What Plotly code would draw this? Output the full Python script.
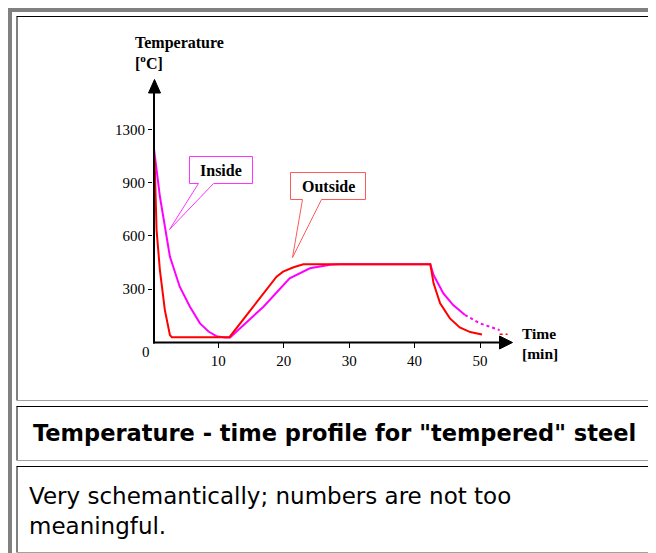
import plotly.graph_objects as go

# ---------------- data ----------------
time_outside = [0.25, 0.56, 1.07, 1.83, 2.6, 2.9, 11.7, 15.3, 18.9, 19.9, 21.5, 23.0,
                42.4, 42.9, 43.9, 45.4, 46.9, 48.5, 50.3]
temp_outside = [1040, 634, 407, 181, 40, 28, 28, 199, 370, 398, 423, 440,
                440, 332, 219, 134, 83, 57, 43]
time_outside_tail = [53.0, 54.2]
temp_outside_tail = [45, 45]

time_inside = [0.15, 1.07, 2.6, 4.1, 5.66, 7.2, 8.5, 9.7, 11.0, 11.8, 16.9, 20.9,
               24.0, 27.1, 28.5, 42.4, 42.9, 44.4, 45.9, 47.7]
temp_inside = [1096, 822, 483, 313, 200, 106, 60, 34, 26, 26, 200, 360,
               417, 437, 440, 440, 379, 275, 209, 153]
time_inside_tail = [47.7, 50.0, 53.0]
temp_inside_tail = [153, 106, 68]

x_tick_vals = [10, 20, 30, 40, 50]
y_tick_vals = [300, 600, 900, 1200]
y_tick_text = ["300", "600", "900", "1300"]

# ---------------- layout helpers ----------------
OFF = 8  # page body margin
W, H = 656 - OFF, 553 - OFF
def X(px):
    return (px - OFF) / W
def Y(py):
    return 1 - (py - OFF) / H

SERIF = "Liberation Serif, Times New Roman, serif"
SANS = "DejaVu Sans, Arial, sans-serif"

fig = go.Figure()
fig.add_trace(go.Scatter(x=time_inside, y=temp_inside, mode="lines",
                         line=dict(color="#ff00ff", width=2), name="Inside"))
fig.add_trace(go.Scatter(x=time_inside_tail, y=temp_inside_tail, mode="lines",
                         line=dict(color="#ff00ff", width=2, dash="dot"), name="Inside"))
fig.add_trace(go.Scatter(x=time_outside, y=temp_outside, mode="lines",
                         line=dict(color="#ff0000", width=2), name="Outside"))
fig.add_trace(go.Scatter(x=time_outside_tail, y=temp_outside_tail, mode="lines",
                         line=dict(color="#ff0000", width=1.5, dash="dot"), name="Outside"))

px_per_min = 6.5425
px_per_deg = 53.15 / 300
x0_px, y0_px = 152.9, 342.15
xr_px, yt_px = 600, 60

shapes = []
gray = "#808080"
light = "#a0a0a0"
# outer table border
shapes.append(dict(type="rect", xref="paper", yref="paper", x0=X(8), x1=X(12), y0=Y(553), y1=Y(8),
                   fillcolor=gray, line=dict(width=0), layer="below"))
shapes.append(dict(type="rect", xref="paper", yref="paper", x0=X(8), x1=X(656), y0=Y(12), y1=Y(8),
                   fillcolor=gray, line=dict(width=0), layer="below"))
# cells
for top, bottom in [(16.5, 400.5), (406.5, 460.5), (466.5, 552.5)]:
    shapes.append(dict(type="line", xref="paper", yref="paper", x0=X(16.5), x1=X(656), y0=Y(top), y1=Y(top),
                       line=dict(color="black", width=1)))
    shapes.append(dict(type="line", xref="paper", yref="paper", x0=X(17), x1=X(17), y0=Y(top), y1=Y(bottom),
                       line=dict(color="black", width=1)))
    shapes.append(dict(type="line", xref="paper", yref="paper", x0=X(17), x1=X(656), y0=Y(bottom), y1=Y(bottom),
                       line=dict(color=light, width=1)))

# axis lines with arrows
shapes.append(dict(type="line", xref="paper", yref="paper", x0=X(154), x1=X(154), y0=Y(343.5), y1=Y(90),
                   line=dict(color="black", width=2)))
shapes.append(dict(type="line", xref="paper", yref="paper", x0=X(153), x1=X(502), y0=Y(342.5), y1=Y(342.5),
                   line=dict(color="black", width=2)))
shapes.append(dict(type="path", xref="paper", yref="paper",
                   path=f"M {X(154.5)},{Y(79.5)} L {X(160.5)},{Y(93)} L {X(148.5)},{Y(93)} Z",
                   fillcolor="black", line=dict(color="black", width=1)))
shapes.append(dict(type="path", xref="paper", yref="paper",
                   path=f"M {X(512.5)},{Y(342.5)} L {X(499.5)},{Y(336)} L {X(499.5)},{Y(349)} Z",
                   fillcolor="black", line=dict(color="black", width=1)))

# callouts
def callout(l, r, t, b, a, c, tipx, tipy, color):
    return dict(type="path", xref="paper", yref="paper",
                path=(f"M {X(l)},{Y(t)} L {X(r)},{Y(t)} L {X(r)},{Y(b)} L {X(c)},{Y(b)} "
                      f"L {X(tipx)},{Y(tipy)} L {X(a)},{Y(b)} L {X(l)},{Y(b)} Z"),
                fillcolor="white", line=dict(color=color, width=1), layer="above")
shapes.append(callout(189.5, 252.5, 156.5, 183.5, 198.5, 213.5, 169.5, 229.5, "#ff33ff"))
shapes.append(callout(290.5, 365.5, 172.5, 199.5, 302.5, 321.5, 292.5, 257.5, "#ff5a5a"))

annotations = []
def txt(s, x, y, size, family=SERIF, weight="normal", xanchor="left", yanchor="middle", align="left"):
    annotations.append(dict(text=s, xref="paper", yref="paper", x=X(x), y=Y(y), showarrow=False,
                            xanchor=xanchor, yanchor=yanchor, align=align,
                            font=dict(family=family, size=size, color="black", weight=weight)))

txt("Temperature", 133, 43, 16, weight="bold")
txt("[<sup>o</sup>C]", 133, 62, 16, weight="bold")
txt("Time", 520, 333.5, 15.5, weight="bold")
txt("[min]", 520, 353.5, 15.5, weight="bold")
txt("0", 146, 352, 15, xanchor="center")
txt("Inside", 221, 170, 16, weight="bold", xanchor="center")
txt("Outside", 328, 186.5, 16, weight="bold", xanchor="center")
txt('Temperature - time profile for "tempered" steel', 31, 433, 22.5, family=SANS, weight="bold")
txt("Very schemantically; numbers are not too<br>meaningful.", 27, 511, 23, family=SANS)

fig.update_layout(
    width=W, height=H,
    margin=dict(l=0, r=0, t=0, b=0),
    paper_bgcolor="white", plot_bgcolor="rgba(0,0,0,0)",
    showlegend=False,
    shapes=shapes,
    annotations=annotations,
    xaxis=dict(domain=[X(x0_px), X(xr_px)], range=[0, (xr_px - x0_px) / px_per_min],
               showgrid=False, zeroline=False, showline=False,
               tickmode="array", tickvals=x_tick_vals, ticks="outside", ticklen=5,
               tickwidth=1, tickcolor="black",
               tickfont=dict(family=SERIF, size=15, color="black")),
    yaxis=dict(domain=[Y(y0_px), Y(yt_px)], range=[0, (y0_px - yt_px) / px_per_deg],
               showgrid=False, zeroline=False, showline=False,
               tickmode="array", tickvals=y_tick_vals, ticktext=y_tick_text,
               ticks="outside", ticklen=4, tickwidth=1, tickcolor="black",
               tickfont=dict(family=SERIF, size=15, color="black")),
)

fig.write_html("out.html")
